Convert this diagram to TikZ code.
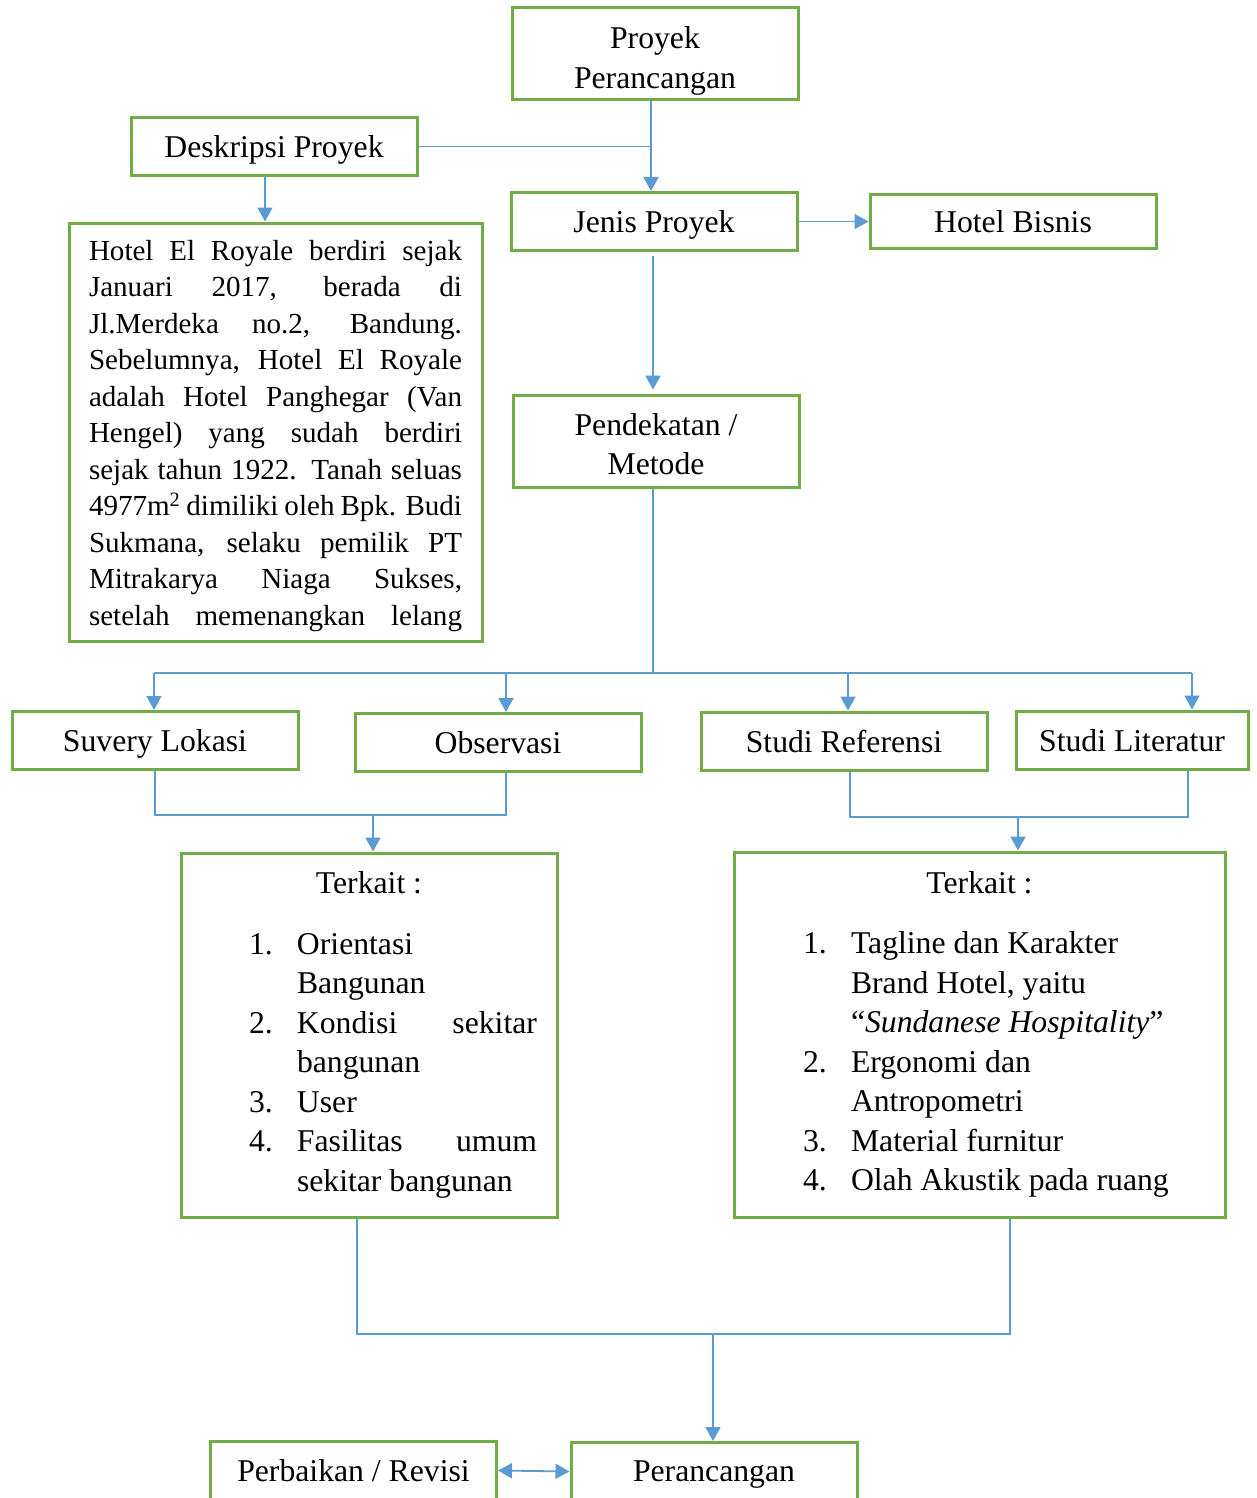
\documentclass[tikz,border=0pt]{standalone}
\usepackage{fontspec}
\setmainfont{Liberation Serif}
\usepackage{tikz}
\usetikzlibrary{arrows.meta,positioning,calc}
\definecolor{boxgreen}{RGB}{112,173,71}
\definecolor{lineblue}{RGB}{91,155,213}
\newcommand{\jline}[2][373pt]{\makebox[#1][s]{#2}\par}
\newcommand{\litem}[2]{\hspace*{48pt}\makebox[48pt][l]{#1}#2\par}
\newcommand{\topstrut}[1][28pt]{\rule{0pt}{#1}}

\begin{document}
\begin{tikzpicture}[
  x=1pt, y=-1pt,
  box/.style={rectangle, draw=boxgreen, line width=3pt, minimum width=286pt, minimum height=58pt, inner sep=0pt, align=center, font=\fontsize{31.7}{39.5}\selectfont},
  tbox/.style={box, text depth=0pt},
  link/.style={lineblue, line width=1.8pt},
  arrow/.style={link, -{Triangle[width=15pt,length=14pt]}}
]
\useasboundingbox (0,0) rectangle (1256,1498);

% Top part
\node[box, minimum height=92pt] (proyek) at (655,54) {\topstrut[36pt]Proyek\\Perancangan};
\node[tbox] (deskripsi) at (274,146.5) {Deskripsi Proyek};
\node[tbox] (jenis) at (654,221.5) {Jenis Proyek};
\node[tbox, minimum height=54pt] (bisnis) at (1013,221.5) {Hotel Bisnis};
\node[box, minimum width=413pt, minimum height=418pt, font=\fontsize{29.06}{36.5}\selectfont] (desc) at (275.5,432) {\parbox{373pt}{\vspace*{8pt}%
  \jline{Hotel El Royale berdiri sejak}
  \jline{Januari 2017, berada di}
  \jline{Jl.Merdeka no.2, Bandung.}
  \jline{Sebelumnya, Hotel El Royale}
  \jline{adalah Hotel Panghegar (Van}
  \jline{Hengel) yang sudah berdiri}
  \jline{sejak tahun 1922. Tanah seluas}
  \jline{4977m\textsuperscript{2} dimiliki oleh Bpk. Budi}
  \jline{Sukmana, selaku pemilik PT}
  \jline{Mitrakarya Niaga Sukses,}
  \jline{setelah memenangkan lelang}}};
\node[box, minimum height=92pt] (pendekatan) at (656,441) {\topstrut Pendekatan /\\Metode};

% Metode
\node[tbox] (suvery) at (155,740.5) {Suvery Lokasi};
\node[tbox] (observasi) at (498,742.5) {Observasi};
\node[tbox] (studiref) at (844,741) {Studi Referensi};
\node[tbox, minimum width=232pt] (studilit) at (1132,740) {Studi Literatur};

% Terkait
\node[box, minimum width=376pt, minimum height=364pt] (terkaitA) at (369,1035) {\parbox{336pt}{%
  \centering Terkait :\par\vspace{21pt}\raggedright
  \litem{1.}{Orientasi}
  \litem{}{Bangunan}
  \litem{2.}{\makebox[240pt][s]{Kondisi sekitar}}
  \litem{}{bangunan}
  \litem{3.}{User}
  \litem{4.}{\makebox[240pt][s]{Fasilitas umum}}
  \litem{}{sekitar bangunan}}};
\node[box, minimum width=491pt, minimum height=365pt] (terkaitB) at (979.5,1034.5) {\parbox{449pt}{%
  \centering Terkait :\par\vspace{21pt}\raggedright
  \litem{1.}{Tagline dan Karakter}
  \litem{}{Brand Hotel, yaitu}
  \litem{}{“\textit{Sundanese Hospitality}”}
  \litem{2.}{Ergonomi dan}
  \litem{}{Antropometri}
  \litem{3.}{Material furnitur}
  \litem{4.}{Olah Akustik pada ruang}}};

% Bottom
\node[tbox] (perbaikan) at (353.5,1470.5) {Perbaikan / Revisi};
\node[tbox] (perancangan) at (714,1471.5) {Perancangan};

% Arrows
\coordinate (jt) at (651,146.5);
\draw[link] (deskripsi.east) -- (deskripsi.east -| jt);
\draw[arrow] (proyek.south -| jt) -- (jenis.north -| jt);
\draw[arrow] ([xshift=-9pt]deskripsi.south) -- ([xshift=-9pt]deskripsi.south |- desc.north);
\draw[arrow] (jenis.east) -- (bisnis.west);
\draw[arrow, shorten <=4pt, shorten >=4pt] ([xshift=-1pt]jenis.south) -- ([xshift=-1pt]jenis.south |- pendekatan.north);

\coordinate (b0) at (653,673);
\coordinate (b1) at (154,673);
\coordinate (b2) at (506,673);
\coordinate (b3) at (848,673);
\coordinate (b4) at (1192,673);
\draw[link] (pendekatan.south -| b0) -- (b0);
\draw[link] (b1) -- (b4);
\draw[arrow] (b1) -- (b1 |- suvery.north);
\draw[arrow] (b2) -- (b2 |- observasi.north);
\draw[arrow] (b3) -- (b3 |- studiref.north);
\draw[arrow] (b4) -- (b4 |- studilit.north);

\coordinate (m1a) at (155,815);
\coordinate (m1b) at (506,815);
\coordinate (m1) at (373,815);
\draw[link] (suvery.south -| m1a) -- (m1a) -- (m1b) -- (observasi.south -| m1b);
\draw[arrow] (m1) -- (m1 |- terkaitA.north);

\coordinate (m2a) at (850,817);
\coordinate (m2b) at (1188,817);
\coordinate (m2) at (1018,817);
\draw[link] (studiref.south -| m2a) -- (m2a) -- (m2b) -- (studilit.south -| m2b);
\draw[arrow] (m2) -- (m2 |- terkaitB.north);

\coordinate (m3a) at (357,1334);
\coordinate (m3b) at (1010,1334);
\coordinate (m3) at (713,1334);
\draw[link] (terkaitA.south -| m3a) -- (m3a) -- (m3b) -- (terkaitB.south -| m3b);
\draw[arrow] (m3) -- (m3 |- perancangan.north);

\draw[arrow, {Triangle[width=15pt,length=14pt]}-{Triangle[width=15pt,length=14pt]}] (perbaikan.east) -- (perancangan.west);

\end{tikzpicture}
\end{document}
